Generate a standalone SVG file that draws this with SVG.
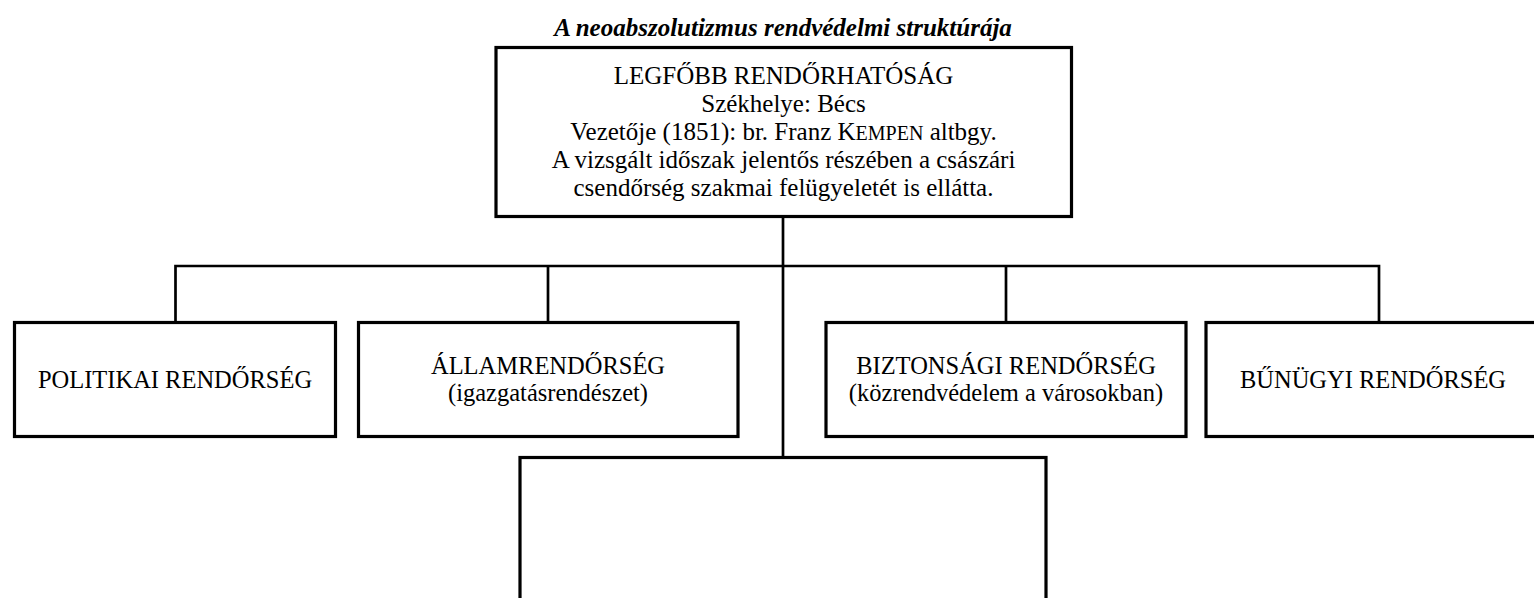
<svg xmlns="http://www.w3.org/2000/svg" width="1534" height="598" viewBox="0 0 1534 598">
<style>
.box{fill:#fff;stroke:#000;stroke-width:3.2}
.con{fill:none;stroke:#000;stroke-width:2.7}
text{font-family:"Liberation Serif","Times New Roman",serif;font-size:24.5px;fill:#000;text-anchor:middle}
.title{font-weight:bold;font-style:italic;font-size:25px}
.top{font-size:25px}
.sc{font-size:20px}
</style>
<rect width="1534" height="598" fill="#fff"/>
<text class="title" x="783" y="36">A neoabszolutizmus rendvédelmi struktúrája</text>
<g id="connectors">
<line class="con" x1="783" y1="217" x2="783" y2="457"/>
<polyline class="con" points="175.5,322 175.5,266 1379,266 1379,322"/>
<line class="con" x1="548" y1="266" x2="548" y2="322"/>
<line class="con" x1="1006" y1="266" x2="1006" y2="322"/>
</g>
<g id="n-legfobb">
<rect class="box" x="496" y="47.5" width="575.5" height="169"/>
<text class="top" x="783.5" y="84">LEGFŐBB RENDŐRHATÓSÁG</text>
<text class="top" x="783.5" y="112">Székhelye: Bécs</text>
<text class="top" x="783.5" y="140">Vezetője (1851): br. Franz K<tspan class="sc">EMPEN</tspan> altbgy.</text>
<text class="top" x="783.5" y="168">A vizsgált időszak jelentős részében a császári</text>
<text class="top" x="783.5" y="196">csendőrség szakmai felügyeletét is ellátta.</text>
</g>
<g id="n-politikai">
<rect class="box" x="14.5" y="322.5" width="321" height="114"/>
<text x="175" y="388">POLITIKAI RENDŐRSÉG</text>
</g>
<g id="n-allam">
<rect class="box" x="358.5" y="322.5" width="379.5" height="114"/>
<text x="548" y="374">ÁLLAMRENDŐRSÉG</text>
<text x="548" y="401">(igazgatásrendészet)</text>
</g>
<g id="n-biztonsagi">
<rect class="box" x="826" y="322.5" width="360" height="114"/>
<text x="1006" y="374">BIZTONSÁGI RENDŐRSÉG</text>
<text x="1006" y="401">(közrendvédelem a városokban)</text>
</g>
<g id="n-bunugyi">
<rect class="box" x="1206" y="322.5" width="342" height="114"/>
<text x="1373" y="388">BŰNÜGYI RENDŐRSÉG</text>
</g>
<g id="n-empty">
<rect class="box" x="520" y="457.5" width="526" height="150"/>
</g>
</svg>
